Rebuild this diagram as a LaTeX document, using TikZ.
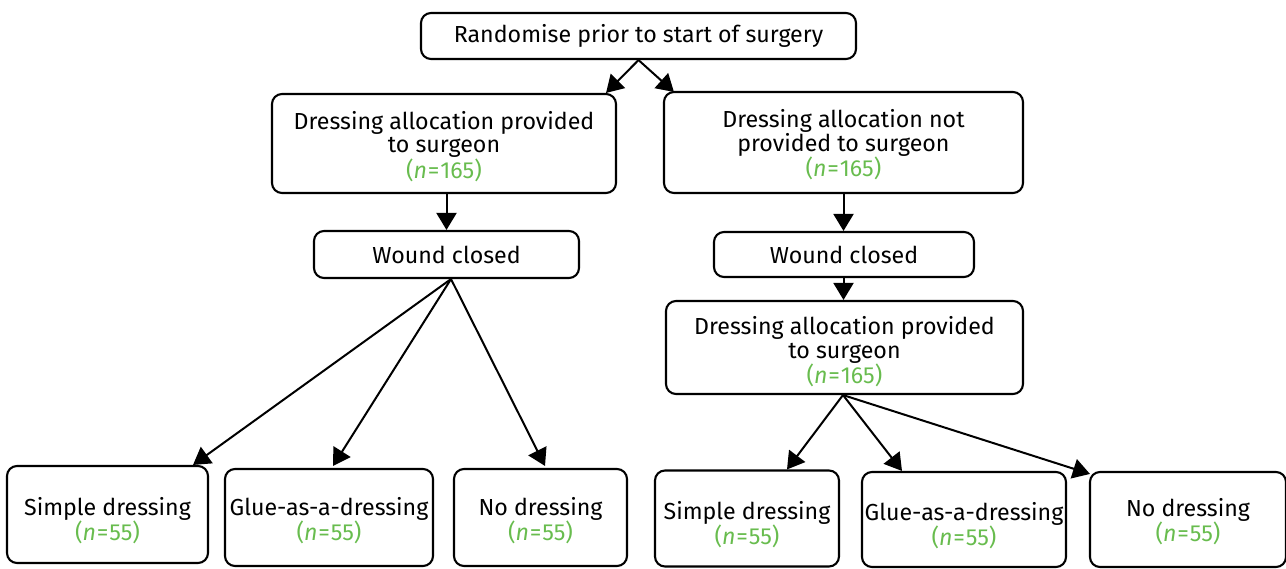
\documentclass[tikz,border=0pt]{standalone}
\usepackage{fontspec}
\setmainfont{Fira Sans}
\usetikzlibrary{arrows.meta,calc}
\definecolor{ngreen}{RGB}{104,188,78}
\newcommand{\nval}[1]{\textcolor{ngreen}{(\textit{n}\kern0.8pt=\kern0.8pt#1)}}
\newcommand{\dn}[1]{\rule{0pt}{#1}}
\begin{document}
\begin{tikzpicture}[x=1pt,y=-1pt,
  box/.style={draw, line width=2.1pt, rounded corners=10pt, align=center, inner sep=0pt,
    font=\fontsize{23.2}{23.8}\selectfont},
  arr/.style={line width=2pt, -{Triangle[length=17pt,width=20pt]}}]
\useasboundingbox (0,0) rectangle (1286,568);
% top
\node[box, minimum width=435pt, minimum height=46pt] (top) at (638.5,36) {Randomise prior to start of surgery};
% level 1
\node[box, minimum width=344pt, minimum height=99pt] (L1) at (444,143.5) {\dn{24pt}Dressing allocation provided\\to surgeon\\\nval{165}};
\node[box, minimum width=359pt, minimum height=101pt] (R1) at (843.5,142.5) {\dn{23pt}Dressing allocation not\\provided to surgeon\\\nval{165}};
% wound closed
\node[box, minimum width=265pt, minimum height=47pt] (LW) at (446.5,254.5) {Wound closed};
\node[box, minimum width=260pt, minimum height=45pt] (RW) at (844,254.5) {Wound closed};
% right second allocation
\node[box, minimum width=357pt, minimum height=93pt] (R2) at (844.5,347.5) {\dn{27pt}Dressing allocation provided\\to surgeon\\\nval{165}};
% bottom left
\node[box, minimum width=201pt, minimum height=97pt] (S1) at (107.5,514.5) {\dn{30pt}Simple dressing\\\nval{55}};
\node[box, minimum width=208pt, minimum height=97pt] (G1) at (329,517.5) {\dn{24pt}Glue-as-a-dressing\\\nval{55}};
\node[box, minimum width=173pt, minimum height=97pt] (N1) at (540.5,517.5) {\dn{24pt}No dressing\\\nval{55}};
% bottom right
\node[box, minimum width=184pt, minimum height=96pt] (S2) at (747,518.5) {\dn{30pt}Simple dressing\\\nval{55}};
\node[box, minimum width=204pt, minimum height=95pt] (G2) at (964,519.5) {\dn{30pt}Glue-as-a-dressing\\\nval{55}};
\node[box, minimum width=196pt, minimum height=95pt] (N2) at (1188,519.5) {\dn{22pt}No dressing\\\nval{55}};
% connectors
\draw[arr] (top.south) -- ([xshift=-11pt]L1.north east);
\draw[arr] (top.south) -- ([xshift=11pt,yshift=-1pt]R1.north west);
\draw[arr] (LW.north |- L1.south) -- (LW.north);
\draw[arr] (R1.south) -- (R1.south |- RW.north);
\draw[arr] (R1.south |- RW.south) -- (R1.south |- R2.north);
\coordinate (lo) at ([xshift=4.5pt]LW.south);
\draw[arr] (lo) -- ([xshift=85.5pt]S1.north);
\draw[arr] (lo) -- ([xshift=4pt,yshift=2pt]G1.north);
\draw[arr] (lo) -- ([xshift=4.5pt,yshift=2pt]N1.north);
\coordinate (ro) at ([xshift=-1.5pt]R2.south);
\draw[arr] (ro) -- ([xshift=40pt]S2.north);
\draw[arr] (ro) -- ([xshift=-62pt]G2.north);
\draw[arr] (ro) -- ([xshift=1pt,yshift=-3pt]N2.north west);
\end{tikzpicture}
\end{document}
